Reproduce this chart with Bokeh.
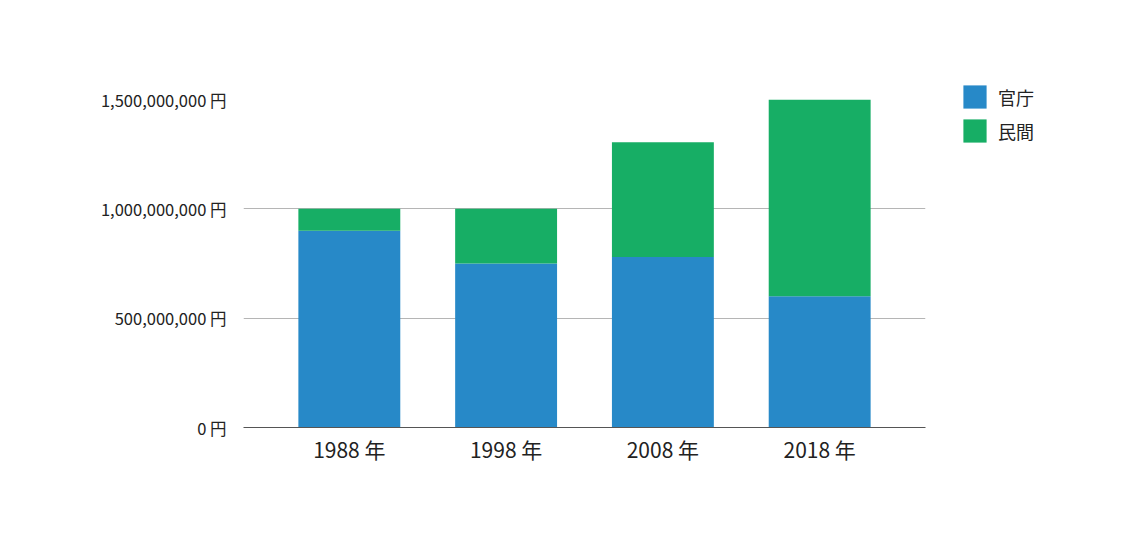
from bokeh.plotting import figure
from bokeh.models import FactorRange, Range1d, FixedTicker, Legend, LegendItem
from bokeh.embed import file_html
from bokeh.resources import INLINE

years = ["1988 年", "1998 年", "2008 年", "2018 年"]
govt = [900_000_000, 750_000_000, 780_000_000, 600_000_000]
private = [100_000_000, 250_000_000, 525_000_000, 900_000_000]
series = ["官庁", "民間"]
colors = ["#2789C8", "#17AE65"]
y_ticks = [0, 500_000_000, 1_000_000_000, 1_500_000_000]
y_tick_labels = ["0 円", "500,000,000 円", "1,000,000,000 円", "1,500,000,000 円"]

FONT = "Noto Sans CJK JP"

data = {"year": years, "官庁": govt, "民間": private}

p = figure(
    x_range=FactorRange(*years, range_padding=0.0875),
    y_range=Range1d(0, 1_500_000_000),
    frame_width=682, frame_height=328,
    min_border_left=243, min_border_right=10,
    min_border_top=99, min_border_bottom=100,
    output_backend="svg", toolbar_location=None,
    background_fill_color="white", border_fill_color="white",
)
p.outline_line_color = None

renderers = p.vbar_stack(series, x="year", width=0.65, color=colors,
                         line_color=None, source=data)

p.yaxis.ticker = FixedTicker(ticks=y_ticks)
p.yaxis.major_label_overrides = {t: l for t, l in zip(y_ticks, y_tick_labels)}
p.yaxis.axis_line_color = None
p.yaxis.major_tick_line_color = None
p.yaxis.minor_tick_line_color = None
p.yaxis.major_label_text_font = FONT
p.yaxis.major_label_text_font_size = "16.5px"
p.yaxis.major_label_text_color = "#222222"
p.yaxis.major_label_standoff = 11

p.xaxis.axis_line_color = "#555555"
p.xaxis.major_tick_line_color = None
p.xaxis.minor_tick_line_color = None
p.xaxis.major_label_text_font = FONT
p.xaxis.major_label_text_font_size = "21px"
p.xaxis.major_label_text_color = "#222222"
p.xaxis.major_label_standoff = 0

p.xgrid.grid_line_color = None
p.ygrid.grid_line_color = "#b5b5b5"
p.ygrid.level = "underlay"

legend = Legend(
    items=[LegendItem(label=s, renderers=[r]) for s, r in zip(series, renderers)],
    location=(35, 282),
    orientation="vertical",
    border_line_color=None, background_fill_alpha=0,
    padding=0, margin=0, spacing=5,
    glyph_width=29, glyph_height=29, label_height=29,
    label_standoff=9,
    label_text_font=FONT, label_text_font_size="18px", label_text_color="#222222",
)
p.add_layout(legend, "right")

open("out.html", "w").write(file_html(p, INLINE))
